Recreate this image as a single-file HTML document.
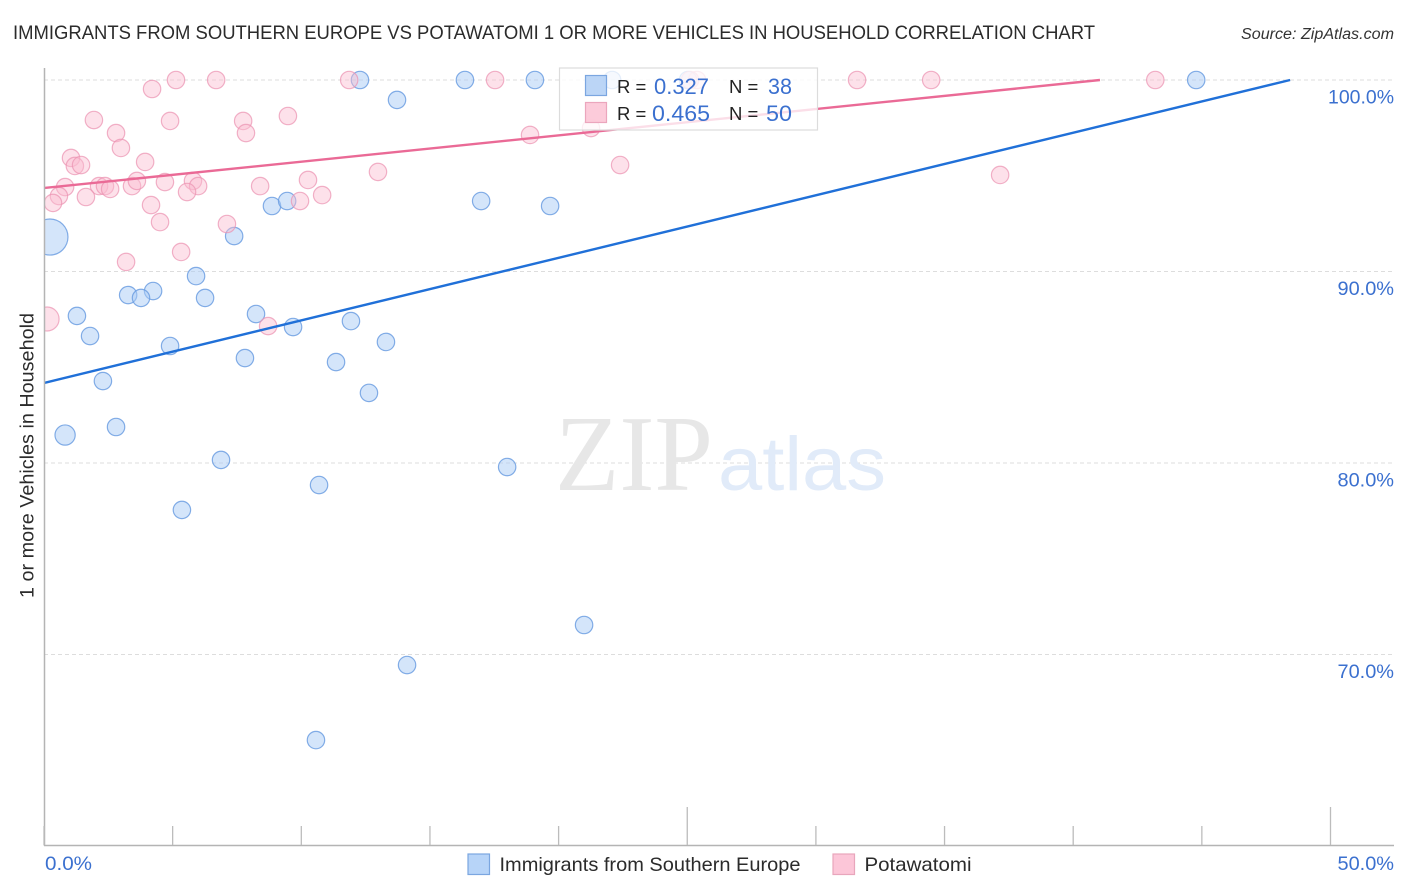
<!DOCTYPE html>
<html lang="en">
<head>
<meta charset="utf-8">
<title>Immigrants from Southern Europe vs Potawatomi correlation chart</title>
<style>
html,body{margin:0;padding:0;background:#fff;width:1406px;height:892px;overflow:hidden}
svg{display:block;font-family:"Liberation Sans",sans-serif}
</style>
</head>
<body>
<svg id="chart" width="1406" height="892" viewBox="0 0 1406 892" xmlns="http://www.w3.org/2000/svg">
  <defs>
    <clipPath id="plot-clip"><rect x="44.5" y="60" width="1350" height="785"/></clipPath>
  </defs>
  <rect width="1406" height="892" fill="#fff"/>
  <text x="13" y="39" font-size="19" fill="#2b2b2b" textLength="1082" lengthAdjust="spacingAndGlyphs">IMMIGRANTS FROM SOUTHERN EUROPE VS POTAWATOMI 1 OR MORE VEHICLES IN HOUSEHOLD CORRELATION CHART</text>
  <text x="1241" y="39" font-size="15.5" font-style="italic" fill="#333" textLength="153" lengthAdjust="spacingAndGlyphs">Source: ZipAtlas.com</text>

  <g id="gridlines"></g>

  <g>
    <text x="555" y="490" font-family="'Liberation Serif',serif" font-size="108" fill="#e7e7e7" textLength="158" lengthAdjust="spacingAndGlyphs">ZIP</text>
    <text x="718" y="490" font-size="76" fill="#e1ebf9" textLength="168" lengthAdjust="spacingAndGlyphs">atlas</text>
  </g>

  <g id="points" clip-path="url(#plot-clip)"></g>
  <g id="trends" clip-path="url(#plot-clip)"></g>

  <g id="axes">
    <line x1="44.5" y1="68" x2="44.5" y2="846" stroke="#b4b4b4" stroke-width="1.5"/>
    <line x1="44" y1="845.5" x2="1394" y2="845.5" stroke="#b4b4b4" stroke-width="1.5"/>
  </g>
  <g id="y-labels"></g>
  <g id="x-labels"></g>

  <text transform="translate(33.5,455.5) rotate(-90)" text-anchor="middle" font-size="19.5" fill="#2b2b2b" textLength="285" lengthAdjust="spacingAndGlyphs">1 or more Vehicles in Household</text>

  <g>
    <rect x="559.5" y="68" width="258" height="62" fill="#fff" fill-opacity="0.78" stroke="#dcdcdc" stroke-width="1.2"/>
    <rect x="585.5" y="75.5" width="21" height="20" fill="#b4d0f5" fill-opacity="0.9" stroke="#7ba6e0" stroke-width="1.2"/>
    <rect x="585.5" y="102.5" width="21" height="20" fill="#fcc5d6" fill-opacity="0.9" stroke="#eba6bd" stroke-width="1.2"/>
    <text x="617" y="93" font-size="18.5" fill="#222">R =</text>
    <text x="654" y="94" font-size="22" fill="#3b70cf" textLength="55" lengthAdjust="spacingAndGlyphs">0.327</text>
    <text x="729" y="93" font-size="18.5" fill="#222">N =</text>
    <text x="768" y="94" font-size="22" fill="#3b70cf" textLength="24" lengthAdjust="spacingAndGlyphs">38</text>
    <text x="617" y="120" font-size="18.5" fill="#222">R =</text>
    <text x="652" y="121" font-size="22" fill="#3b70cf" textLength="58" lengthAdjust="spacingAndGlyphs">0.465</text>
    <text x="729" y="120" font-size="18.5" fill="#222">N =</text>
    <text x="766" y="121" font-size="22" fill="#3b70cf" textLength="26" lengthAdjust="spacingAndGlyphs">50</text>
  </g>

  <g>
    <rect x="468" y="854" width="21.5" height="20.5" fill="#b7d4f8" stroke="#7ba6e0" stroke-width="1.2"/>
    <text x="499.5" y="871" font-size="19.5" fill="#2b2b2b" textLength="301" lengthAdjust="spacingAndGlyphs">Immigrants from Southern Europe</text>
    <rect x="833" y="854" width="21.5" height="20.5" fill="#fcc6d8" stroke="#e8a6bc" stroke-width="1.2"/>
    <text x="864.5" y="871" font-size="19.5" fill="#2b2b2b" textLength="107" lengthAdjust="spacingAndGlyphs">Potawatomi</text>
  </g>
</svg>
<script>
const yTicks = [100, 90, 80, 70];
const yTickLabels = ["100.0%", "90.0%", "80.0%", "70.0%"];
const xTicks = [0, 5, 10, 15, 20, 25, 30, 35, 40, 45, 50];
const xMajorTicks = [25, 50];
const xTickLabels = ["0.0%", "50.0%"];

const blueX = [12.28,16.36,19.08,44.78,22.08,25.03,13.72,8.86,9.45,16.99,19.67,7.39,0.23,5.91,4.24,3.27,3.77,6.26,1.28,8.24,9.68,11.93,1.79,4.90,13.29,7.81,11.35,2.29,12.63,0.82,2.80,6.88,18.00,10.69,5.36,20.99,14.11,10.57];
const blueY = [100,100,100,100,100,100,98.96,93.42,93.68,93.68,93.42,91.85,91.80,89.76,88.98,88.77,88.62,88.62,87.68,87.78,87.10,87.41,86.63,86.11,86.32,85.48,85.27,84.28,83.66,81.46,81.88,80.16,79.79,78.85,77.55,71.54,69.45,65.53];
const blueWeight = [1,1,1,1,1,1,1,1,1,1,1,1,4.3,1,1,1,1,1,1,1,1,1,1,1,1,1,1,1,1,1.35,1,1,1,1,1,1,1,1];

const pinkX = [4.20,5.13,6.69,11.86,17.53,25.38,25.11,31.60,34.48,43.19,1.94,4.90,7.74,9.48,2.80,7.85,2.99,18.89,21.26,1.05,3.93,1.20,1.44,22.39,12.98,37.16,0.82,2.14,2.37,2.57,3.42,3.61,4.70,5.79,5.99,5.56,8.40,10.26,0.58,1.63,0.35,4.16,9.95,10.81,4.51,7.11,5.33,3.19,8.71,0.12];
const pinkY = [99.53,100,100,100,100,100,100,100,100,100,97.91,97.86,97.86,98.12,97.23,97.23,96.45,97.13,97.49,95.93,95.72,95.51,95.56,95.56,95.20,95.04,94.41,94.46,94.46,94.31,94.46,94.73,94.67,94.73,94.46,94.15,94.46,94.78,93.94,93.89,93.58,93.47,93.68,93.99,92.58,92.48,91.02,90.50,87.15,87.52];
const pinkWeight = [1,1,1,1,1,1,1,1,1,1,1,1,1,1,1,1,1,1,1,1,1,1,1,1,1,1,1,1,1,1,1,1,1,1,1,1,1,1,1,1,1,1,1,1,1,1,1,1,1,1.9];

const blueTrendX = [0, 48.43];
const blueTrendY = [84.18, 100];
const pinkTrendX = [0, 41.04];
const pinkTrendY = [94.36, 100];

const NS = "http://www.w3.org/2000/svg";
function xScale(v) { return 44 + (v / 50) * 1286.5; }
function yScale(v) { return 80 + (100 - v) * 19.15; }
function labelWidth(s) { return 9.5 * s.length + 9; }
function make(tag, attrs, parent) {
  const el = document.createElementNS(NS, tag);
  for (const k in attrs) el.setAttribute(k, attrs[k]);
  parent.appendChild(el);
  return el;
}

const grid = document.getElementById("gridlines");
const yLabelGroup = document.getElementById("y-labels");
yTicks.forEach(function (t, i) {
  const line = make("line", {x1: 44, x2: 1394, y1: yScale(t), y2: yScale(t), stroke: "#dddddd", "stroke-width": 1, "stroke-dasharray": "4 3"}, grid);
  
  
  const w = labelWidth(yTickLabels[i]);
  const label = make("text", {x: 1394 - w, y: yScale(t) + 23.5, "font-size": 19.5, fill: "#3b70cf", textLength: w, lengthAdjust: "spacingAndGlyphs"}, yLabelGroup);
  label.textContent = yTickLabels[i];
  
  
});

const axes = document.getElementById("axes");
xTicks.forEach(function (t) {
  const top = xMajorTicks.indexOf(t) >= 0 ? 807 : 826;
  const tick = make("line", {x1: xScale(t), x2: xScale(t), y1: top, y2: 845, stroke: "#bcbcbc", "stroke-width": 1.3}, axes);
  
  
});

const xLabelGroup = document.getElementById("x-labels");
const xLabel0 = make("text", {x: 45, y: 870, "font-size": 19.5, fill: "#3b70cf", textLength: labelWidth(xTickLabels[0]), lengthAdjust: "spacingAndGlyphs"}, xLabelGroup);
xLabel0.textContent = xTickLabels[0];


const xLabel1 = make("text", {x: 1394 - labelWidth(xTickLabels[1]), y: 870, "font-size": 19.5, fill: "#3b70cf", textLength: labelWidth(xTickLabels[1]), lengthAdjust: "spacingAndGlyphs"}, xLabelGroup);
xLabel1.textContent = xTickLabels[1];



const pointGroup = document.getElementById("points");
function radius(w) { return 8.7 * Math.sqrt(w); }
blueX.forEach(function (v, i) {
  const c = make("circle", {cx: xScale(v), cy: yScale(blueY[i]), r: radius(blueWeight[i]), fill: "#a9cbf5", "fill-opacity": 0.5, stroke: "#6d9fe2", "stroke-opacity": 0.85, "stroke-width": 1.2}, pointGroup);
  
  
});
pinkX.forEach(function (v, i) {
  const c = make("circle", {cx: xScale(v), cy: yScale(pinkY[i]), r: radius(pinkWeight[i]), fill: "#fbbdd0", "fill-opacity": 0.45, stroke: "#eb92b0", "stroke-opacity": 0.7, "stroke-width": 1.2}, pointGroup);
  
  
});

const trends = document.getElementById("trends");
const blueTrend = make("line", {x1: xScale(blueTrendX[0]), y1: yScale(blueTrendY[0]), x2: xScale(blueTrendX[1]), y2: yScale(blueTrendY[1]), stroke: "#2070d8", "stroke-width": 2.4}, trends);


const pinkTrend = make("line", {x1: xScale(pinkTrendX[0]), y1: yScale(pinkTrendY[0]), x2: xScale(pinkTrendX[1]), y2: yScale(pinkTrendY[1]), stroke: "#ea6a96", "stroke-width": 2.4}, trends);


</script>
</body>
</html>
